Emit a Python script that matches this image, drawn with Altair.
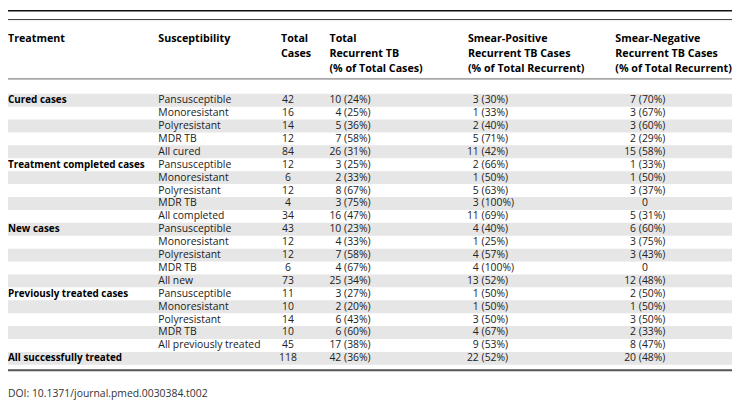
import altair as alt
import pandas as pd

# ---------------- data ----------------
treatments = ["Cured cases", "Treatment completed cases", "New cases", "Previously treated cases"]
susceptibility = ["Pansusceptible", "Monoresistant", "Polyresistant", "MDR TB"]
group_all = ["All cured", "All completed", "All new", "All previously treated"]
grand_label = "All successfully treated"

total_cases = [42, 16, 14, 12, 84, 12, 6, 12, 4, 34, 43, 12, 12, 6, 73, 11, 10, 14, 10, 45, 118]
recurrent = [10, 4, 5, 7, 26, 3, 2, 8, 3, 16, 10, 4, 7, 4, 25, 3, 2, 6, 6, 17, 42]
recurrent_pct = [24, 25, 36, 58, 31, 25, 33, 67, 75, 47, 23, 33, 58, 67, 34, 27, 20, 43, 60, 38, 36]
smear_pos = [3, 1, 2, 5, 11, 2, 1, 5, 3, 11, 4, 1, 4, 4, 13, 1, 1, 3, 4, 9, 22]
smear_pos_pct = [30, 33, 40, 71, 42, 66, 50, 63, 100, 69, 40, 25, 57, 100, 52, 50, 50, 50, 67, 53, 52]
smear_neg = [7, 3, 3, 2, 15, 1, 1, 3, 0, 5, 6, 3, 3, 0, 12, 2, 1, 3, 2, 8, 20]
smear_neg_pct = [70, 67, 60, 29, 58, 33, 50, 37, None, 31, 60, 75, 43, None, 48, 50, 50, 50, 33, 47, 48]

header_lines = {
    "Treatment": ["Treatment"],
    "Susceptibility": ["Susceptibility"],
    "Total Cases": ["Total", "Cases"],
    "Recurrent": ["Total", "Recurrent TB", "(% of Total Cases)"],
    "SmearPos": ["Smear-Positive", "Recurrent TB Cases", "(% of Total Recurrent)"],
    "SmearNeg": ["Smear-Negative", "Recurrent TB Cases", "(% of Total Recurrent)"],
}
doi = "DOI: 10.1371/journal.pmed.0030384.t002"

# ---------------- build tables ----------------
rows = []
for g, t in enumerate(treatments):
    for k in range(5):
        rows.append({
            "treat": t if k == 0 else "",
            "susc": susceptibility[k] if k < 4 else group_all[g],
        })
rows.append({"treat": grand_label, "susc": ""})
df = pd.DataFrame(rows)
df["row"] = range(len(df))
df["total"] = [str(v) for v in total_cases]


def split(nums, pcts):
    n, p, z = [], [], []
    for a, b in zip(nums, pcts):
        if b is None:
            n.append(""); p.append(""); z.append(str(a))
        else:
            n.append(str(a)); p.append(f"({b}%)"); z.append("")
    return n, p, z


df["rec_n"], df["rec_p"], df["rec_z"] = split(recurrent, recurrent_pct)
df["pos_n"], df["pos_p"], df["pos_z"] = split(smear_pos, smear_pos_pct)
df["neg_n"], df["neg_p"], df["neg_z"] = split(smear_neg, smear_neg_pct)
df["y0"] = df["row"] - 0.5
df["y1"] = df["row"] + 0.5
df["shade"] = df["row"] % 2 == 0

hdr = []
for key, lines in header_lines.items():
    for i, s in enumerate(lines):
        hdr.append({"key": key, "line": i, "text": s})
hdr = pd.DataFrame(hdr)

W, H = 732, 400
FONT = "Open Sans"
FS = 10.5
BFS = 10
HFS = 10.8
ROWY = alt.Scale(domain=[0, 20], range=[91, 352])
HDRY = alt.Scale(domain=[0, 2], range=[29, 59])
yrow = alt.Y("row:Q", scale=ROWY, axis=None)

base = alt.Chart(df)

bands = base.transform_filter("datum.shade").mark_rect(color="#e6e6e6").encode(
    x=alt.value(0), x2=alt.value(W),
    y=alt.Y("y0:Q", scale=ROWY, axis=None), y2="y1:Q",
)


def col_text(field, xpos, align="left", bold=False, color="#222222"):
    return base.mark_text(
        align=align, baseline="middle", font=FONT, fontSize=BFS if bold else FS,
        fontWeight="bold" if bold else "normal", color=color,
    ).encode(x=alt.value(xpos), y=yrow, text=f"{field}:N")


body = [
    col_text("treat", 0, bold=True, color="#000000"),
    col_text("susc", 152),
    col_text("total", 283, align="center"),
    col_text("rec_n", 337, align="right"),
    col_text("rec_p", 339.8),
    col_text("pos_n", 476, align="right"),
    col_text("pos_p", 478.8),
    col_text("neg_n", 635, align="right"),
    col_text("neg_p", 637.8),
    col_text("neg_z", 641),
]

hx = {"Treatment": 0, "Susceptibility": 152, "Total Cases": 276,
      "Recurrent": 325, "SmearPos": 465, "SmearNeg": 614}
headers = []
for key, xp in hx.items():
    headers.append(
        alt.Chart(hdr).transform_filter(alt.datum.key == key).mark_text(
            align="left", baseline="middle", font=FONT, fontSize=HFS,
            fontWeight="bold", color="#000000",
        ).encode(x=alt.value(xp), y=alt.Y("line:Q", scale=HDRY, axis=None), text="text:N")
    )


def hline(ypos, color, width):
    return alt.Chart(pd.DataFrame({"a": [0]})).mark_rule(color=color, strokeWidth=width).encode(
        x=alt.value(0), x2=alt.value(W), y=alt.value(ypos)
    )


lines = [
    hline(0.5, "#111111", 1.5),
    hline(9.5, "#333333", 1),
    hline(69.5, "#666666", 1),
    hline(364, "#555555", 2),
]

doi_text = alt.Chart(pd.DataFrame({"t": [doi]})).mark_text(
    align="left", baseline="middle", font=FONT, fontSize=FS, color="#333333"
).encode(x=alt.value(0), y=alt.value(388), text="t:N")

chart = alt.layer(bands, *body, *headers, *lines, doi_text).resolve_scale(
    y="independent"
).properties(
    width=W, height=H, autosize=alt.AutoSizeParams(type="none"), padding=0
).configure_view(stroke=None)

chart.save("out.html", embed_options={"renderer": "svg", "actions": False})
